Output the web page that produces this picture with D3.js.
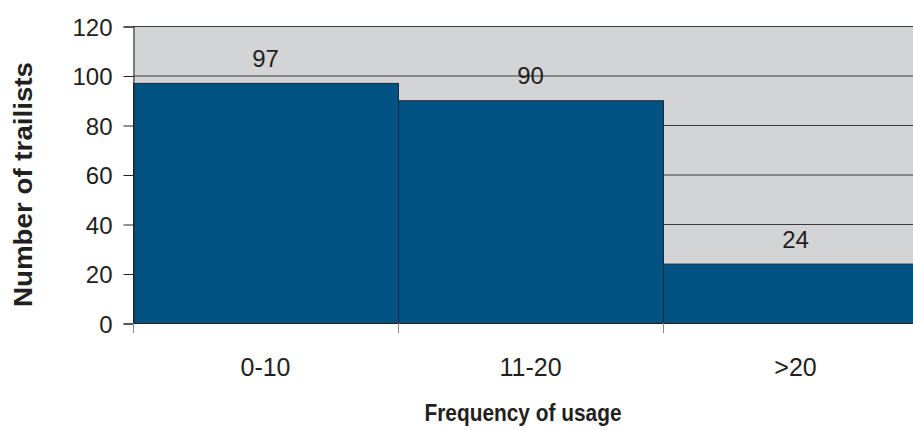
<!DOCTYPE html>
<html><head><meta charset="utf-8">
<script src="https://cdn.jsdelivr.net/npm/d3@7"></script>
<style>body{margin:0;background:#fff}svg{display:block}text{font-family:"Liberation Sans",Arial,sans-serif}</style>
</head><body><svg id="c" width="913" height="430"></svg>
<script>
const categories = ["0-10", "11-20", ">20"];
const values = [97, 90, 24];
const yTicks = [0, 20, 40, 60, 80, 100, 120];

const svg = d3.select("#c");
const FONT = '"Liberation Sans",Arial,sans-serif';
const plotLeft = 133, plotTop = 26, plotBottom = 323, bandW = 265;
const x = d3.scaleBand().domain(categories).range([plotLeft, plotLeft + bandW * categories.length]).padding(0);
const y = d3.scaleLinear().domain([0, 120]).range([plotBottom, plotTop]);

// plot background
svg.append("rect").attr("x", plotLeft).attr("y", plotTop).attr("width", 913 - plotLeft).attr("height", plotBottom - plotTop).attr("fill", "#d3d4d6");
// gridlines
svg.append("g").selectAll("line").data(yTicks.filter(d => d > 0)).join("line")
  .attr("x1", plotLeft).attr("x2", 913).attr("y1", d => y(d) + 0.5).attr("y2", d => y(d) + 0.5)
  .attr("stroke", "#3a3a3a").attr("stroke-width", 1);

// bars
svg.append("g").selectAll("rect").data(values).join("rect")
  .attr("x", (d, i) => x(categories[i]) + 0.5).attr("y", d => y(d) + 0.5)
  .attr("width", x.bandwidth()).attr("height", d => plotBottom - y(d))
  .attr("fill", "#005282").attr("stroke", "#1b2a38").attr("stroke-width", 1);

// value labels
svg.append("g").selectAll("text").data(values).join("text")
  .attr("x", (d, i) => x(categories[i]) + x.bandwidth() / 2).attr("y", d => y(d) - 16)
  .attr("text-anchor", "middle").attr("font-size", 24).attr("fill", "#231f20").text(d => d);

// y axis
const yAxis = d3.axisLeft(y).tickValues(yTicks).tickSize(10).tickPadding(11);
const gy = svg.append("g").attr("transform", `translate(${plotLeft + 0.5},0.5)`).call(yAxis);
gy.select(".domain").attr("stroke", "#231f20");
gy.selectAll(".tick line").attr("stroke", "#231f20");
gy.selectAll(".tick text").attr("font-size", 24).attr("fill", "#231f20").attr("font-family", FONT).attr("dy", "0.36em");

// x axis
const xAxis = d3.axisBottom(x).tickSize(0).tickPadding(0);
const gx = svg.append("g").attr("transform", `translate(0,${plotBottom + 0.5})`).call(xAxis);
gx.select(".domain").attr("stroke", "#231f20").attr("d", `M${plotLeft},0H913`);
gx.selectAll(".tick text").attr("font-size", 25).attr("fill", "#231f20").attr("dy", null).attr("y", 52).attr("font-family", FONT);
// category boundary ticks
svg.append("g").selectAll("line").data(categories).join("line")
  .attr("x1", d => x(d) + 0.5).attr("x2", d => x(d) + 0.5).attr("y1", plotBottom).attr("y2", plotBottom + 10)
  .attr("stroke", "#888").attr("stroke-width", 1);

// axis titles
svg.append("text").attr("x", 523).attr("y", 421).attr("text-anchor", "middle")
  .attr("font-size", 24).attr("font-weight", "bold").attr("fill", "#231f20")
  .attr("textLength", 197).attr("lengthAdjust", "spacingAndGlyphs").text("Frequency of usage");
svg.append("text").attr("transform", "translate(32,184.5) rotate(-90)").attr("text-anchor", "middle")
  .attr("font-size", 25).attr("font-weight", "bold").attr("fill", "#231f20")
  .attr("textLength", 245).attr("lengthAdjust", "spacingAndGlyphs").text("Number of trailists");
</script></body></html>
